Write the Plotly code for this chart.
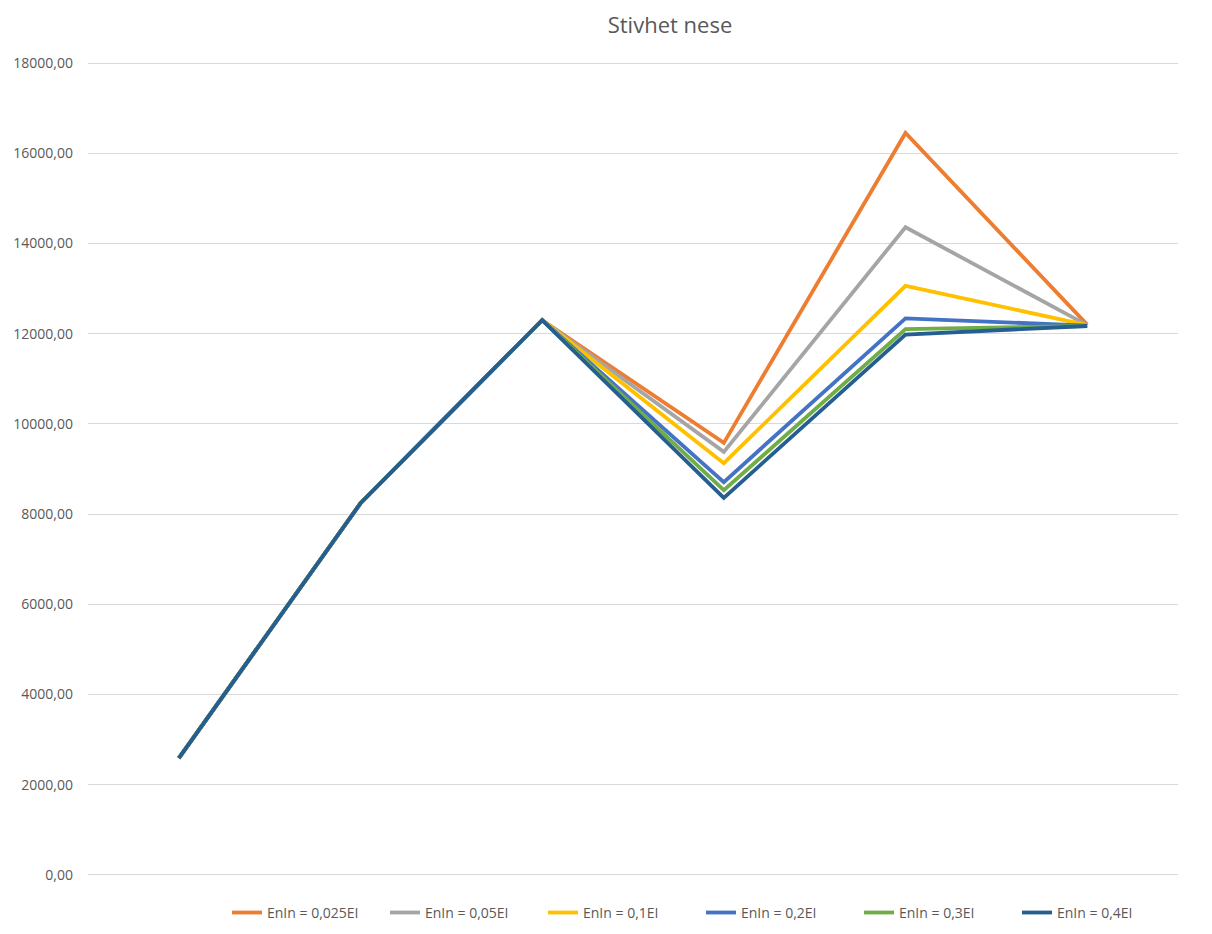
import plotly.graph_objects as go

# Six measurement positions along the category axis (unlabelled)
positions = [1, 2, 3, 4, 5, 6]

series_names = [
    "EnIn = 0,025EI",
    "EnIn = 0,05EI",
    "EnIn = 0,1EI",
    "EnIn = 0,2EI",
    "EnIn = 0,3EI",
    "EnIn = 0,4EI",
]

stiff_0025 = [2590, 8240, 12300, 9580, 16450, 12200]
stiff_005 = [2590, 8240, 12300, 9380, 14360, 12190]
stiff_01 = [2590, 8240, 12300, 9130, 13060, 12190]
stiff_02 = [2590, 8240, 12300, 8710, 12340, 12180]
stiff_03 = [2590, 8240, 12300, 8530, 12100, 12170]
stiff_04 = [2590, 8240, 12300, 8360, 11980, 12170]

series_values = [stiff_0025, stiff_005, stiff_01, stiff_02, stiff_03, stiff_04]
series_colors = ["#ED7D31", "#A5A5A5", "#FFC000", "#4472C4", "#70AD47", "#255E91"]

y_ticks = [0, 2000, 4000, 6000, 8000, 10000, 12000, 14000, 16000, 18000]

fig = go.Figure()
for name, vals, col in zip(series_names, series_values, series_colors):
    fig.add_trace(go.Scatter(
        x=positions, y=vals, name=name, mode="lines",
        line=dict(color=col, width=3.8),
    ))

text_col = "#595959"
fig.update_layout(
    width=1212, height=934,
    paper_bgcolor="white", plot_bgcolor="white",
    margin=dict(l=88, r=34, t=61, b=57, autoexpand=False),
    separators=",.",
    font=dict(family="Open Sans, Noto Sans, sans-serif", color=text_col, size=14),
    title=dict(text="Stivhet nese", x=670 / 1212, xref="container", xanchor="center",
               y=1 - 25 / 934, yref="container", yanchor="middle",
               font=dict(size=22, color=text_col)),
    xaxis=dict(range=[0.5, 6.5], showticklabels=False, showgrid=False,
               zeroline=False, showline=False, ticks=""),
    # small padding so the 0 and 18000 grid lines are kept
    yaxis=dict(range=[-45, 18045], tickvals=y_ticks, tickformat=".2f",
               showgrid=True, gridcolor="#D9D9D9", gridwidth=1,
               zeroline=False, showline=False, ticks="",
               ticklabelstandoff=14, tickfont=dict(size=14, color=text_col)),
    legend=dict(orientation="h", x=(701 - 88) / 1090, xanchor="center",
                y=-0.044, yanchor="middle", font=dict(size=14, color=text_col),
                itemwidth=30, entrywidth=113, entrywidthmode="pixels",
                traceorder="normal"),
    showlegend=True,
)

fig.write_html("out.html")
